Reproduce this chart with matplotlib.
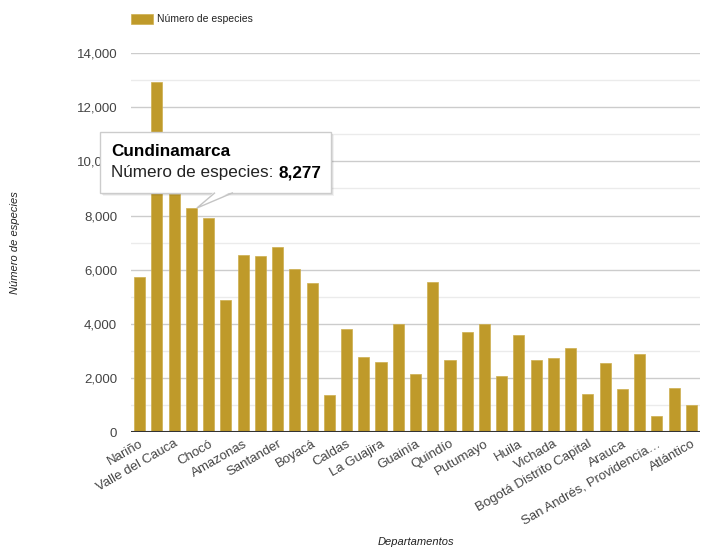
import matplotlib
matplotlib.use("Agg")
import matplotlib.pyplot as plt
import numpy as np
from matplotlib.patches import Rectangle, Polygon

plt.rcParams['font.family'] = ['Liberation Sans', 'DejaVu Sans']

departamentos = [
    "Nariño", "Antioquia", "Valle del Cauca", "Cundinamarca", "Chocó", "Meta",
    "Amazonas", "Cauca", "Santander", "Tolima", "Boyacá", "Vaupés",
    "Caldas", "Risaralda", "La Guajira", "Caquetá", "Guainía", "Magdalena",
    "Quindío", "Norte de Santander", "Putumayo", "Casanare", "Huila", "Guaviare",
    "Vichada", "Cesar", "Bogotá Distrito Capital", "Bolívar", "Arauca", "Córdoba",
    "San Andrés, Providencia…", "Sucre", "Atlántico",
]
especies = [
    5730, 12925, 8800, 8277, 7920, 4890,
    6555, 6505, 6825, 6010, 5510, 1380,
    3830, 2780, 2605, 4010, 2150, 5555,
    2655, 3705, 4010, 2065, 3605, 2655,
    2745, 3115, 1425, 2560, 1600, 2875,
    600, 1645, 1015,
]
serie = "Número de especies"
yticks = [0, 2000, 4000, 6000, 8000, 10000, 12000, 14000]
tooltip_idx = 3

BAR = "#BF9A2A"
W, H = 701, 549
fig = plt.figure(figsize=(W / 100, H / 100), dpi=100)
ax = fig.add_axes([131 / W, 1 - 432.3 / H, 569 / W, (432.3 - 53) / H])

x = np.arange(len(departamentos))
ax.bar(x, especies, width=0.64, color=BAR, edgecolor="#CDAE4E", linewidth=0.5, zorder=3)

ax.set_xlim(-0.5, len(departamentos) - 0.5)
ax.set_ylim(0, 14000)
ax.set_yticks(yticks)
ax.set_yticklabels([f"{v:,}" for v in yticks], color="#444444", fontsize=9.5)
ax.set_yticks(np.arange(1000, 14000, 2000), minor=True)
ax.grid(axis="y", which="major", color="#cccccc", linewidth=1.0, zorder=0)
ax.grid(axis="y", which="minor", color="#ebebeb", linewidth=1.0, zorder=0)
ax.tick_params(axis="y", which="both", length=0, pad=10)
ax.tick_params(axis="x", length=0, pad=4)
ax.set_xticks(x[::2])
ax.set_xticklabels(departamentos[::2], rotation=30, ha="right", rotation_mode="anchor",
                   color="#444444", fontsize=9.5)
for s in ["top", "right", "left", "bottom"]:
    ax.spines[s].set_visible(False)
ax.axhline(0, color="#333333", linewidth=1.5, zorder=4)

fig.text(416 / W, 1 - 542 / H, "Departamentos", ha="center", va="center",
         fontsize=8, style="italic", color="#222222")
fig.text(15 / W, 1 - 243 / H, "Número de especies", ha="center", va="center",
         rotation=90, fontsize=8, style="italic", color="#222222")

# legend
fig.patches.append(Rectangle((131 / W, 1 - 24.3 / H), 22 / W, 10.5 / H,
                             transform=fig.transFigure, facecolor=BAR, edgecolor="#CDAE4E", lw=0.5))
fig.text(157 / W, 1 - 19 / H, serie, ha="left", va="center", fontsize=7.5, color="#222222")

# tooltip
fig.canvas.draw()
tip_disp = ax.transData.transform((tooltip_idx + 0.32, especies[tooltip_idx]))
tip = fig.transFigure.inverted().transform(tip_disp)
bx0, by0, bx1, by1 = 100, 131.5, 331, 192.7
def fx(px):
    return px / W
def fy(py):
    return 1 - py / H
for off, a in [(3, 0.05), (2, 0.07), (1, 0.09)]:
    fig.patches.append(Rectangle((fx(bx0 + off), fy(by1 + off)), (bx1 - bx0) / W, (by1 - by0) / H,
                                 transform=fig.transFigure, facecolor="black", alpha=a,
                                 edgecolor="none", zorder=9))
fig.patches.append(Rectangle((fx(bx0), fy(by1)), (bx1 - bx0) / W, (by1 - by0) / H,
                             transform=fig.transFigure, facecolor="white", edgecolor="#cccccc",
                             lw=1.0, zorder=10))
fig.patches.append(Polygon([[fx(215), fy(by1) + 0.003], [tip[0], tip[1]], [fx(233), fy(by1) + 0.003]],
                           closed=True, transform=fig.transFigure, facecolor="white",
                           edgecolor="none", zorder=10.4))
fig.patches.append(Polygon([[fx(215), fy(by1)], [tip[0], tip[1]], [fx(233), fy(by1)]],
                           closed=False, transform=fig.transFigure, facecolor="none",
                           edgecolor="#c4c4c4", lw=1.0, zorder=10.5))

t1 = fig.text(fx(111), fy(151), departamentos[tooltip_idx], ha="left", va="center",
              fontsize=12.3, fontweight="bold", color="#000000", zorder=11)
t2 = fig.text(fx(111), fy(173), f"{serie}: ", ha="left", va="center",
              fontsize=12.3, color="#222222", zorder=11)
fig.canvas.draw()
bb = t2.get_window_extent()
fig.text(fig.transFigure.inverted().transform((bb.x1, 0))[0], fy(173),
         f"{especies[tooltip_idx]:,}", ha="left", va="center", fontsize=12.3,
         fontweight="bold", color="#000000", zorder=11)

fig.savefig("out.png", dpi=100)
